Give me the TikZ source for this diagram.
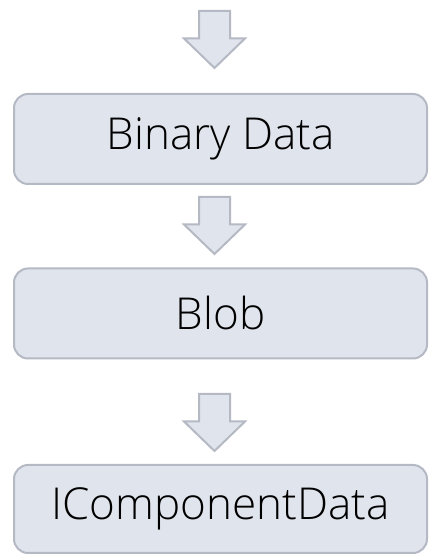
\documentclass[tikz,border=0pt]{standalone}
\usepackage{fontspec}
\setmainfont{Open Sans}[UprightFont=* Light]
\usetikzlibrary{positioning}

\definecolor{boxfill}{HTML}{E0E4EC}
\definecolor{boxline}{HTML}{B4B9C4}

\tikzset{
  databox/.style={draw=boxline, line width=2pt, fill=boxfill, rounded corners=14pt,
    minimum width=413pt, minimum height=90pt, inner sep=0pt,
    font=\fontsize{44}{50}\selectfont},
  flowarrow/.pic={
    \draw[boxline, line width=2pt, fill=boxfill, line join=miter]
      (-15.5,0) -- (15.5,0) -- (15.5,-27.5) -- (30.5,-27.5) -- (0,-57)
      -- (-30.5,-27.5) -- (-15.5,-27.5) -- cycle;
  }
}

\begin{document}
\begin{tikzpicture}[x=1pt, y=1pt]
  \useasboundingbox (0,0) rectangle (429,556);

  \node[databox] (binary) at (220.5,417) {Binary Data};
  \node[databox] (blob) at (220.5,242.5) {Blob};
  \node[databox, minimum height=88pt] (comp) at (220.5,47) {IComponentData};

  % arrows feeding each box
  \pic at (214.5,545) {flowarrow};
  \pic at (214.5,359) {flowarrow};
  \pic at (214.5,162) {flowarrow};
\end{tikzpicture}
\end{document}
